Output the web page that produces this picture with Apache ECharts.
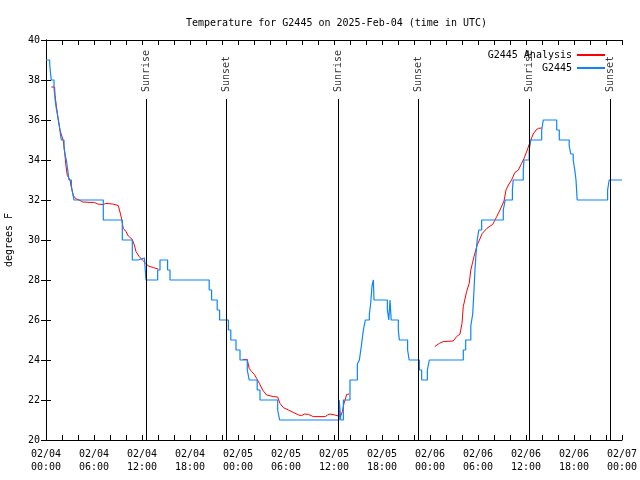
<!DOCTYPE html>
<html>
<head>
<meta charset="utf-8">
<script src="https://cdn.jsdelivr.net/npm/echarts@6/dist/echarts.min.js"></script>
<style>html,body{margin:0;padding:0;background:#fff}#c{width:640px;height:480px}</style>
</head>
<body>
<div id="c"></div>
<script>
// hours since 2025-02-04 00:00 UTC, temperature in degrees F
const observed = [
  [0,39],[0.46,38.8],[0.55,38.4],[0.66,38],[1.0,37.6],[1.1,37.2],[1.2,36.8],[1.32,36.5],[1.42,36.3],[1.55,36],
  [1.71,35.6],[1.8,35.3],[1.92,35],[2.25,34.6],[2.42,34.2],[2.58,33.9],[2.72,33.5],[2.87,33],[3.17,32.7],[3.35,32.3],
  [3.5,32],[7.16,31],[9.54,30],[10.79,29],[11.5,29.1],[12.3,29],[12.5,28],[13.96,28.5],[14.25,29],[15.2,28.5],
  [15.5,28],[20.4,27.5],[20.7,27],[21.4,26.5],[21.7,26],[22.8,25.5],[23.1,25],[23.75,24.5],[24.25,24],[25.16,23.5],
  [25.4,23],[26.4,22.5],[26.75,22],[28.96,21.5],[29.2,21],[36.65,22],[36.85,21],[37.17,22],[38.0,23],[38.92,23.8],
  [39.17,24],[39.42,24.7],[39.67,25.5],[39.92,26],[40.42,26.3],[40.58,26.8],[40.75,27.7],[40.92,28],[41.0,27],
  [42.67,26.5],[42.85,26],[43.0,27],[43.15,26],[44.04,25.5],[44.17,25],[45.2,24.5],[45.4,24],[46.67,23.5],[46.96,23],
  [47.67,23.5],[47.92,24],[52.16,24.5],[52.46,25],[53.1,25.7],[53.34,26.3],[53.5,27.5],[53.62,28.5],[53.75,29.3],
  [53.9,30],[54.1,30.5],[54.46,31],[57.16,31.5],[57.4,32],[58.3,32.5],[58.4,33],[59.66,33.5],[59.75,34],[60.4,34.5],
  [60.6,35],[61.96,35.5],[62.16,36],[63.84,35.5],[64.16,35],[65.4,34.7],[65.6,34.3],[65.9,34],[66.1,33.5],[66.25,33],
  [66.4,32],[70.2,32.5],[70.4,33],[72,33]
];
const analysisA = [
  [0.66,37.65],[1.08,37.65],[1.125,37.23],[1.29,36.73],[1.5,36.07],[1.75,35.48],[2.16,34.98],[2.34,34.4],[2.46,33.82],
  [2.66,33.23],[3.0,33.0],[3.16,32.65],[3.41,32.23],[3.71,32.07],[4.125,32.0],[4.6,31.9],[5.5,31.88],[6.04,31.88],
  [6.46,31.8],[7.16,31.77],[7.46,31.83],[8.34,31.8],[9.04,31.72],[9.34,31.25],[9.46,31.03],[9.66,30.58],[10.0,30.42],
  [10.29,30.2],[10.79,30.03],[11.04,29.75],[11.25,29.42],[11.66,29.17],[12.04,29.0],[12.375,28.87],[12.79,28.7],
  [13.41,28.62],[14.04,28.55]
];
const analysisB = [
  [24.58,24.03],[25.16,24.03],[25.4,23.58],[25.7,23.42],[26.04,23.28],[26.33,23.08],[26.67,22.83],[27.08,22.5],
  [27.58,22.25],[28.42,22.17],[28.96,22.15],[29.25,21.83],[29.67,21.62],[30.3,21.5],[30.9,21.38],[31.6,21.25],
  [31.96,21.22],[32.3,21.3],[32.8,21.28],[33.4,21.17],[34.9,21.17],[35.2,21.25],[35.5,21.3],[36.1,21.25],[36.54,21.2],
  [36.8,21.15],[37.04,21.42],[37.25,21.83],[37.4,22.0],[37.58,22.28],[37.9,22.3]
];
const analysisC = [
  [48.6,24.67],[49.16,24.83],[49.66,24.92],[50.9,24.95],[51.33,25.17],[51.75,25.3],[52.0,25.83],[52.16,26.67],
  [52.58,27.42],[52.9,27.83],[53.1,28.5],[53.5,29.17],[53.9,29.75],[54.54,30.33],[55.1,30.58],[55.84,30.78],
  [56.34,31.17],[56.75,31.5],[57.25,31.95],[57.5,32.5],[57.8,32.75],[58.2,33.0],[58.6,33.37],[59.04,33.5],
  [59.46,33.83],[59.75,34.08],[60.16,34.5],[60.5,34.9],[60.9,35.3],[61.25,35.5],[61.54,35.58],[61.96,35.6]
];
const sunEvents = [
  [12.58,'Sunrise'],[22.54,'Sunset'],[36.56,'Sunrise'],[46.56,'Sunset'],[60.43,'Sunrise'],[70.58,'Sunset']
];
const yTicks = {min:20, max:40, step:2};
const xTicks = {min:0, max:72, step:6, minorSplit:3};

const FONT = 'DejaVu Sans Mono';
const analysis = [].concat(analysisA, [[14.5,null]], analysisB, [[38.2,null]], analysisC);
const base = Date.UTC(2025,1,4);
const pad = n => String(n).padStart(2,'0');
function fmtX(v){
  const d = new Date(base + v*3600000);
  return pad(d.getUTCMonth()+1)+'/'+pad(d.getUTCDate())+'\n'+pad(d.getUTCHours())+':'+pad(d.getUTCMinutes());
}
const lineTop = 37.05, labelY = 37.4;

const xCommon = {
  type:'value', min:xTicks.min, max:xTicks.max, interval:xTicks.step,
  axisLine:{show:true, lineStyle:{color:'#000', width:1}},
  axisTick:{show:true, inside:true, length:5, lineStyle:{color:'#000'}},
  minorTick:{show:true, splitNumber:xTicks.minorSplit, length:5, lineStyle:{color:'#000'}},
  splitLine:{show:false}
};
const yCommon = {
  type:'value', min:yTicks.min, max:yTicks.max, interval:yTicks.step,
  axisLine:{show:true, lineStyle:{color:'#000', width:1}},
  axisTick:{show:true, inside:true, length:5, lineStyle:{color:'#000'}},
  splitLine:{show:false}
};

const chart = echarts.init(document.getElementById('c'), null, {renderer:'canvas'});
chart.setOption({
  animation:false,
  backgroundColor:'#fff',
  title:{text:'Temperature for G2445 on 2025-Feb-04 (time in UTC)', left:181, top:13,
    textStyle:{fontFamily:FONT, fontSize:10, fontWeight:'normal', color:'#000'}},
  grid:{left:46, right:18, top:40, bottom:40, containLabel:false, outerBoundsMode:'none'},
  legend:{
    data:['G2445 Analysis','G2445'], orient:'vertical', right:30, top:44, align:'right',
    itemWidth:28, itemHeight:2, itemGap:1, icon:'rect',
    textStyle:{fontFamily:FONT, fontSize:10, color:'#000', lineHeight:12}
  },
  xAxis:[
    Object.assign({}, xCommon, {position:'bottom',
      axisLabel:{show:true, formatter:fmtX, fontFamily:FONT, fontSize:10, color:'#000', lineHeight:13, margin:8}}),
    Object.assign({}, xCommon, {position:'top', axisLabel:{show:false}})
  ],
  yAxis:[
    Object.assign({}, yCommon, {position:'left', name:'degrees F', nameLocation:'middle', nameGap:32, nameRotate:90,
      nameTextStyle:{fontFamily:FONT, fontSize:10, color:'#000'},
      axisLabel:{fontFamily:FONT, fontSize:10, color:'#000', margin:6}}),
    Object.assign({}, yCommon, {position:'right', axisLabel:{show:false}})
  ],
  series:[
    {
      name:'sun', type:'scatter', symbolSize:0, silent:true, z:1,
      data: sunEvents.map(e => [e[0], labelY, e[1]]),
      label:{show:true, position:'inside', rotate:90, align:'left', verticalAlign:'middle',
        formatter:p => p.value[2], fontFamily:FONT, fontSize:10, color:'#000'},
      markLine:{silent:true, symbol:['none','none'], label:{show:false},
        lineStyle:{color:'#000', width:1, type:'solid'},
        data: sunEvents.map(e => [{coord:[e[0], yTicks.min]}, {coord:[e[0], lineTop]}])}
    },
    {
      name:'G2445 Analysis', type:'line', data:analysis, showSymbol:false, symbol:'none', connectNulls:false,
      lineStyle:{color:'#ff0000', width:1}, itemStyle:{color:'#ff0000'}, z:2
    },
    {
      name:'G2445', type:'line', data:observed, step:'end', showSymbol:false, symbol:'none',
      lineStyle:{color:'#0a85ff', width:1.2}, itemStyle:{color:'#0a85ff'}, z:3
    }
  ]
});
</script>
</body>
</html>
